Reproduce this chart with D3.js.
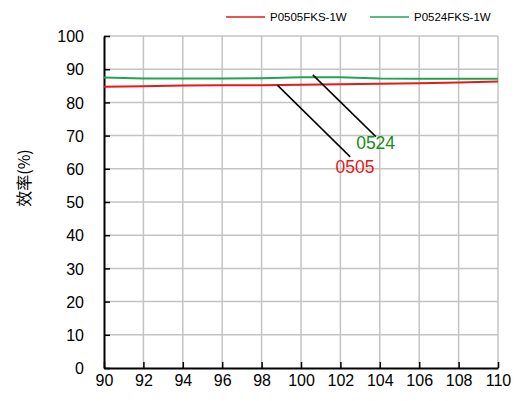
<!DOCTYPE html>
<html lang="zh">
<head>
<meta charset="UTF-8">
<script src="https://d3js.org/d3.v7.min.js"></script>
<style>
  body { margin: 0; background: #fff; }
  text { font-family: "Liberation Sans", Arial, sans-serif; }
</style>
</head>
<body>
<div id="chart"></div>
<script>
// input voltage (x) and efficiency (%)
const xValues = [90, 92, 94, 96, 98, 100, 102, 104, 106, 108, 110];
const eff0505 = [84.7, 84.9, 85.1, 85.2, 85.2, 85.3, 85.5, 85.6, 85.8, 86.0, 86.3];
const eff0524 = [87.5, 87.2, 87.2, 87.2, 87.3, 87.6, 87.6, 87.2, 87.1, 87.1, 87.1];
const seriesNames = ["P0505FKS-1W", "P0524FKS-1W"];
const xTicks = [90, 92, 94, 96, 98, 100, 102, 104, 106, 108, 110];
const yTicks = [0, 10, 20, 30, 40, 50, 60, 70, 80, 90, 100];
// callouts: [x1, y1, x2, y2] in data units, label text at end
const callouts = [
  {name: "0505", line: [98.8, 85.2, 102.5, 63.6], label: [101.75, 58.6]},
  {name: "0524", line: [100.6, 88.3, 103.8, 69.7], label: [102.8, 65.9]}
];

const W = 517, H = 401;
const margin = {top: 36, right: 19, bottom: 33, left: 104};
const width = W - margin.left - margin.right,
      height = H - margin.top - margin.bottom;

const red = "#e8181c", green = "#22a550";

const svg = d3.select("#chart").append("svg")
    .attr("width", W).attr("height", H);
const g = svg.append("g")
    .attr("transform", `translate(${margin.left},${margin.top})`);

const x = d3.scaleLinear().domain([90, 110]).range([0, width]);
const y = d3.scaleLinear().domain([0, 100]).range([height, 0]);

// grid
g.append("g").selectAll("line").data(xTicks.slice(1)).join("line")
    .attr("x1", d => x(d)).attr("x2", d => x(d))
    .attr("y1", 0).attr("y2", height)
    .attr("stroke", "#c4c4c4").attr("stroke-width", 1.5);
g.append("g").selectAll("line").data(yTicks.slice(1)).join("line")
    .attr("x1", 0).attr("x2", width)
    .attr("y1", d => y(d)).attr("y2", d => y(d))
    .attr("stroke", "#c4c4c4").attr("stroke-width", 1.5);

// axes
const xAxis = g.append("g")
    .attr("transform", `translate(0,${height})`)
    .call(d3.axisBottom(x).tickValues(xTicks).tickSizeInner(-6).tickSizeOuter(0).tickPadding(7));
const yAxis = g.append("g")
    .call(d3.axisLeft(y).tickValues(yTicks).tickSizeInner(-6).tickSizeOuter(0).tickPadding(20));
[xAxis, yAxis].forEach(a => {
  a.select(".domain").attr("stroke", "#000").attr("stroke-width", 2);
  a.selectAll(".tick line").attr("stroke", "#000").attr("stroke-width", 1.5);
  a.selectAll(".tick text").attr("fill", "#000").style("font-size", "16px")
      .style("font-family", "'Liberation Sans', Arial, sans-serif");
});
yAxis.selectAll(".tick text").attr("dy", "0.36em");

// series
const line = d3.line().x((d, i) => x(xValues[i])).y(d => y(d));
g.append("path").datum(eff0524).attr("d", line)
    .attr("fill", "none").attr("stroke", green).attr("stroke-width", 2);
g.append("path").datum(eff0505).attr("d", line)
    .attr("fill", "none").attr("stroke", red).attr("stroke-width", 2);

// callouts
callouts.forEach(c => {
  g.append("line")
      .attr("x1", x(c.line[0])).attr("y1", y(c.line[1]))
      .attr("x2", x(c.line[2])).attr("y2", y(c.line[3]))
      .attr("stroke", "#000").attr("stroke-width", 1.5);
  g.append("text")
      .attr("x", x(c.label[0])).attr("y", y(c.label[1]))
      .attr("fill", c.name === "0505" ? "#e41a1c" : "#1a8a1a")
      .style("font-size", "17.5px")
      .text(c.name);
});

// y title
svg.append("text")
    .attr("transform", "translate(30,178) rotate(-90)")
    .attr("text-anchor", "middle")
    .style("font-family", "'Noto Sans CJK SC', sans-serif")
    .style("font-size", "16px")
    .text("效率(%)");

// legend
const legend = svg.append("g");
const legendX = [226, 370];
seriesNames.forEach((n, i) => {
  legend.append("line")
      .attr("x1", legendX[i]).attr("x2", legendX[i] + 39)
      .attr("y1", 17).attr("y2", 17)
      .attr("stroke", i === 0 ? red : green).attr("stroke-width", 1.5);
  legend.append("text")
      .attr("x", legendX[i] + 44).attr("y", 21)
      .style("font-size", "11.5px")
      .text(n);
});
</script>
</body>
</html>
